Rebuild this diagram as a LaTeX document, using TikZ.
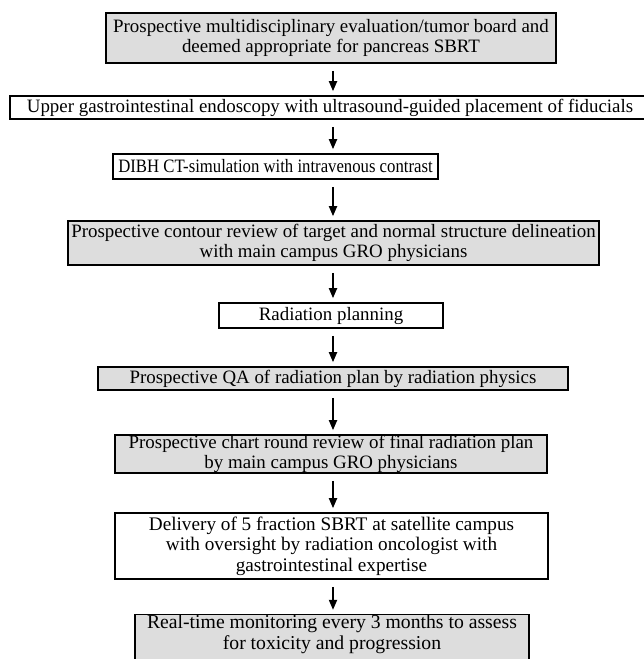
\documentclass[tikz,border=0pt]{standalone}
\usepackage{fontspec}
\setmainfont{Liberation Serif}
\newfontfamily\narrowserif{Liberation Serif}[FakeStretch=0.885]
\usetikzlibrary{arrows.meta}
\definecolor{boxgray}{RGB}{221,221,221}
\tikzset{
  stepbox/.style={draw, line width=0.8pt, align=center, inner sep=0pt,
    font=\fontsize{9.45}{10.3}\selectfont},
  graybox/.style={stepbox, fill=boxgray},
  whitebox/.style={stepbox, fill=white},
  flow/.style={-{Triangle[length=5pt,width=4pt]}, line width=0.9pt,
    shorten <=3.5pt, shorten >=2pt}
}
\begin{document}
\begin{tikzpicture}[x=0.5pt,y=-0.5pt]
  \useasboundingbox (0,0) rectangle (643,659);
  \coordinate (axis) at (333,0);
  \draw
    (331,38) node[graybox, minimum width=225pt, minimum height=25pt] (tumorboard)
      {Prospective multidisciplinary evaluation/tumor board and\\deemed appropriate for pancreas SBRT}
    (330,107.5) node[whitebox, minimum width=320pt, minimum height=11.5pt] (endoscopy)
      {Upper gastrointestinal endoscopy with ultrasound-guided placement of fiducials}
    (275.5,166.5) node[whitebox, minimum width=162.5pt, minimum height=12.5pt,
      font=\narrowserif\fontsize{9.45}{10.3}\selectfont] (simulation)
      {DIBH CT-simulation with intravenous contrast}
    (333.5,243) node[graybox, minimum width=265.5pt, minimum height=22pt] (contour)
      {Prospective contour review of target and normal structure delineation\\with main campus GRO physicians}
    (331,315.5) node[whitebox, minimum width=112pt, minimum height=12.5pt] (planning)
      {Radiation planning}
    (333,378.5) node[graybox, minimum width=235pt, minimum height=11.5pt] (qa)
      {Prospective QA of radiation plan by radiation physics}
    (331,454) node[graybox, minimum width=216pt, minimum height=19pt] (chartround)
      {Prospective chart round review of final radiation plan\\by main campus GRO physicians}
    (331.5,546) node[whitebox, minimum width=216.5pt, minimum height=33pt,
      font=\fontsize{9.6}{10.3}\selectfont] (delivery)
      {Delivery of 5 fraction SBRT at satellite campus\\with oversight by radiation oncologist with\\gastrointestinal expertise}
    (332,641) node[graybox, minimum width=197pt, minimum height=24pt, text depth=9pt,
      font=\fontsize{9.85}{10.5}\selectfont] (monitoring)
      {Real-time monitoring every 3 months to assess\\for toxicity and progression};
  % arrows between steps
  \begin{scope}[flow]
    \draw (tumorboard.south -| axis) to (endoscopy.north -| axis);
    \draw (endoscopy.south -| axis) to (simulation.north -| axis);
    \draw (simulation.south -| axis) to (contour.north -| axis);
    \draw (contour.south -| axis) to (planning.north -| axis);
    \draw (planning.south -| axis) to (qa.north -| axis);
    \draw (qa.south -| axis) to (chartround.north -| axis);
    \draw (chartround.south -| axis) to (delivery.north -| axis);
    \draw (delivery.south -| axis) to (monitoring.north -| axis);
  \end{scope}
\end{tikzpicture}
\end{document}
